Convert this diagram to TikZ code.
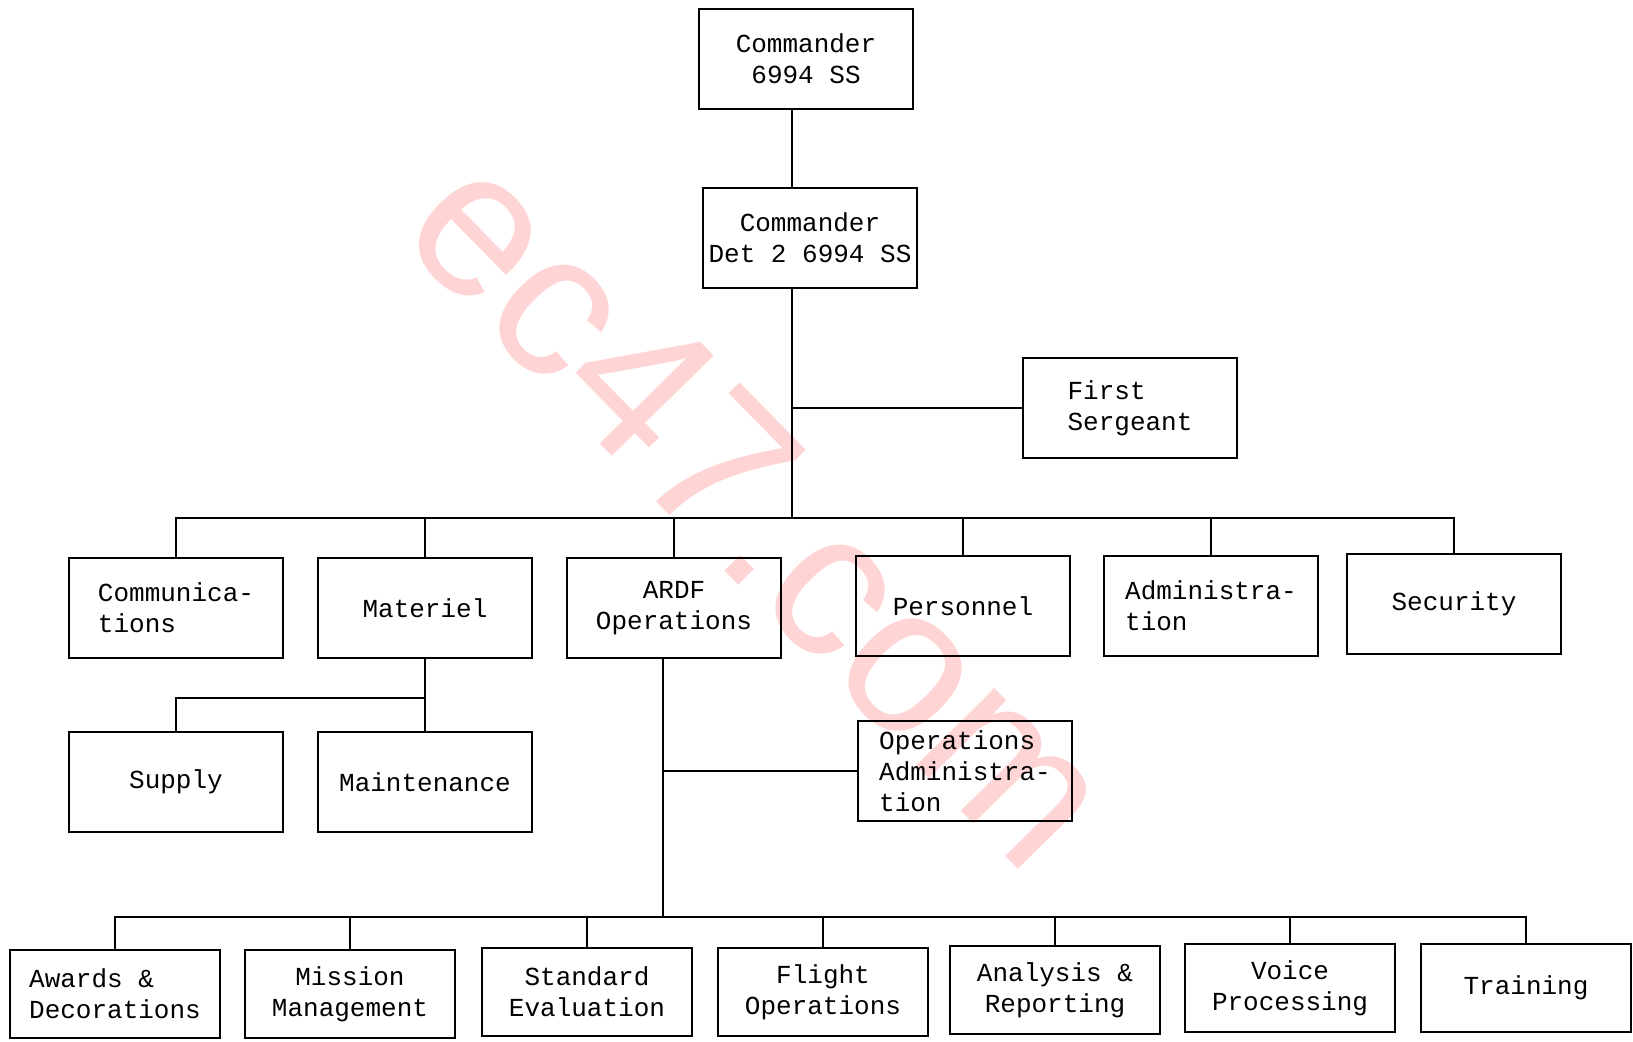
\documentclass[tikz,border=0pt]{standalone}
\usepackage{fontspec}
\setmonofont{Liberation Mono}
\setsansfont{Liberation Sans}
\usetikzlibrary{positioning}

\begin{document}
\begin{tikzpicture}[x=0.5pt,y=-0.5pt,line width=0.9pt,
    unit/.style={draw,align=center,minimum width=107pt,minimum height=50pt,inner sep=2pt,
      font=\ttfamily\fontsize{13}{15.5}\selectfont},
    section/.style={unit,minimum width=105pt,minimum height=44pt},
    watermark/.style={text=red!17,font=\sffamily\fontsize{104}{104}\selectfont}]
  \useasboundingbox (0,0) rectangle (1633,1041);

  \node[watermark,rotate=-45.5] (wm) at (762,508) {ec47.com};

  % command
  \node[unit]             (cmd) at (806,59)   {Commander\\6994 SS};
  \node[unit]             (det) at (810,238)  {Commander\\Det 2 6994 SS};
  \node[unit,align=left]  (fsg) at (1130,408) {First\\Sergeant};

  % branches
  \node[unit,align=left]  (com) at (176,608)  {Communica-\\tions};
  \node[unit]             (mat) at (425,608)  {Materiel};
  \node[unit]             (ops) at (674,608)  {ARDF\\Operations};
  \node[unit]             (per) at (963,606)  {Personnel};
  \node[unit,align=left]  (adm) at (1211,606) {Administra-\\tion};
  \node[unit]             (sec) at (1454,604) {Security};

  \node[unit]             (sup) at (176,782)  {Supply};
  \node[unit]             (mnt) at (425,782)  {Maintenance};
  \node[unit,align=left]  (oad) at (965,771)  {Operations\\Administra-\\tion};

  % ARDF sections
  \node[section,align=left] (awd) at (115,994)  {Awards \&\\Decorations};
  \node[section]            (mis) at (350,994)  {Mission\\Management};
  \node[section]            (std) at (587,992)  {Standard\\Evaluation};
  \node[section]            (flt) at (823,992)  {Flight\\Operations};
  \node[section]            (ana) at (1055,990) {Analysis \&\\Reporting};
  \node[section]            (voi) at (1290,988) {Voice\\Processing};
  \node[section]            (trn) at (1526,988) {Training};

  \coordinate (bus)  at (792,518);
  \coordinate (mbus) at (425,698);
  \coordinate (obus) at (663,917);

  \draw ([xshift=-7pt]cmd.south) -- ([xshift=-7pt]cmd.south |- det.north);
  \draw (det.south -| bus) -- (bus);
  \draw (fsg.west) -- (fsg.west -| bus);

  \draw (com.north) -- (com.north |- bus) -- (sec.north |- bus) -- (sec.north);
  \draw (mat.north) -- (mat.north |- bus);
  \draw (ops.north) -- (ops.north |- bus);
  \draw (per.north) -- (per.north |- bus);
  \draw (adm.north) -- (adm.north |- bus);

  \draw (mat.south) -- (mnt.north);
  \draw (mbus) -| (sup.north);

  \draw (ops.south -| obus) -- (obus);
  \draw (oad.west) -- (oad.west -| obus);
  \draw (awd.north) -- (awd.north |- obus) -- (trn.north |- obus) -- (trn.north);
  \draw (mis.north) -- (mis.north |- obus);
  \draw (std.north) -- (std.north |- obus);
  \draw (flt.north) -- (flt.north |- obus);
  \draw (ana.north) -- (ana.north |- obus);
  \draw (voi.north) -- (voi.north |- obus);
\end{tikzpicture}
\end{document}
